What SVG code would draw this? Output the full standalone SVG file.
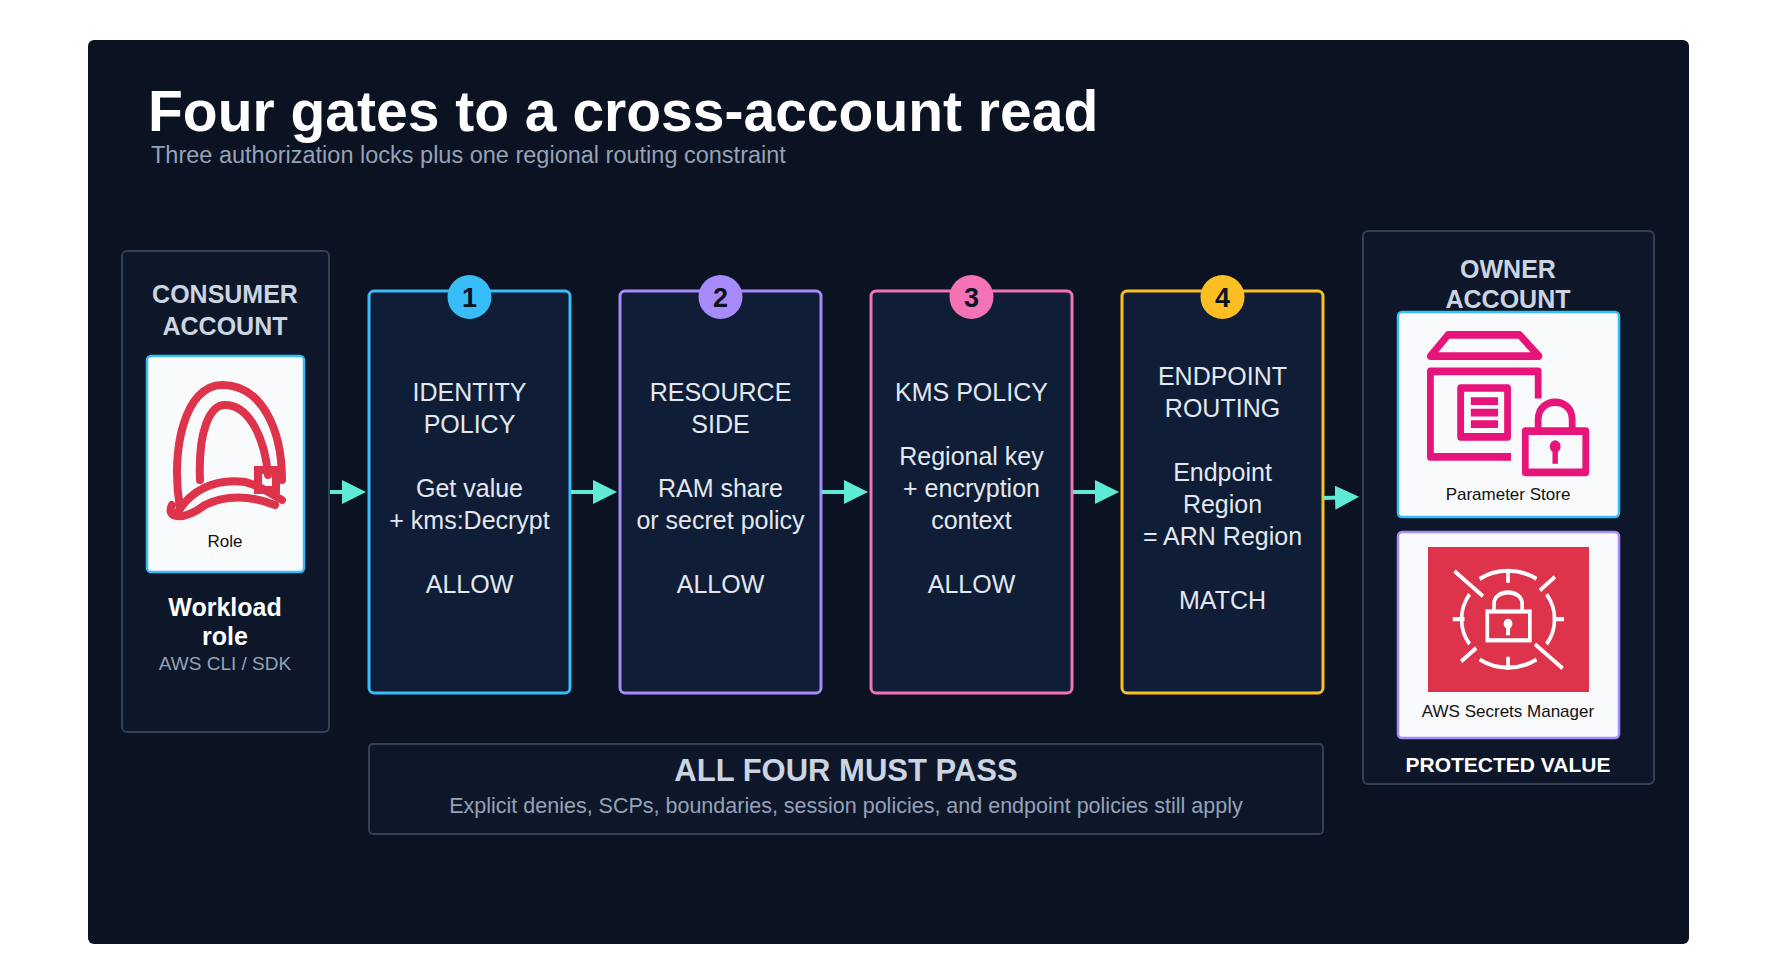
<svg xmlns="http://www.w3.org/2000/svg" width="1782" height="980" viewBox="0 0 1782 980">
<style>
text{font-family:"Liberation Sans",Arial,sans-serif}
.acct{fill:#0d1729;stroke:#334155;stroke-width:2}
.hd{font-weight:bold;font-size:25px;fill:#cbd5e1;text-anchor:middle}
.gate{fill:#101d36;stroke-width:3}
.gt{font-size:25px;fill:#e2e8f0;text-anchor:middle}
.num{font-weight:bold;font-size:27px;fill:#0b1220;text-anchor:middle}
.card{fill:#f8fafc;stroke-width:2.5}
.lbl{font-size:17px;fill:#111;text-anchor:middle}
.conn{stroke:#5eead4;stroke-width:4;fill:none;marker-end:url(#ah)}
.pk{fill:none;stroke:#e7157b;stroke-width:20;stroke-linejoin:round}
.wt{fill:none;stroke:#fff;stroke-width:11}
</style>
<defs>
<marker id="ah" markerWidth="6" markerHeight="6" refX="5" refY="3" orient="auto" markerUnits="strokeWidth"><path d="M0,0 L6,3 L0,6 z" fill="#5eead4"/></marker>
</defs>
<rect width="1782" height="980" fill="#fff"/>
<rect x="88" y="40" width="1601" height="904" rx="6" fill="#0b1221"/>
<text x="148" y="131" font-size="57" font-weight="bold" fill="#fff">Four gates to a cross-account read</text>
<text x="151" y="163" font-size="23.5" fill="#94a3b8">Three authorization locks plus one regional routing constraint</text>

<g id="consumer">
<rect class="acct" x="122" y="251" width="207" height="481" rx="5"/>
<text class="hd" x="225" y="303">CONSUMER</text>
<text class="hd" x="225" y="335">ACCOUNT</text>
<rect class="card" x="147" y="356" width="157" height="216" rx="4" stroke="#38bdf8"/>
<g fill="none" stroke="#dd344c" stroke-width="8" stroke-linecap="round">
<path d="M180,508 C170,450 185,385 222,385 C262,385 282,430 282,480"/>
<path d="M200,480 C198,430 210,405 225,405 C250,405 265,440 268,475"/>
<path d="M176,515 C190,490 215,478 245,482 C262,486 272,495 282,500"/>
<path d="M172,505 C165,520 185,520 205,505 C225,495 250,495 275,505"/>
<rect x="258" y="470" width="18" height="20"/>
</g>
<text class="lbl" x="225" y="547">Role</text>
<text x="225" y="616" font-size="25" font-weight="bold" fill="#fff" text-anchor="middle">Workload</text>
<text x="225" y="645" font-size="25" font-weight="bold" fill="#fff" text-anchor="middle">role</text>
<text x="225" y="670" font-size="19" fill="#94a3b8" text-anchor="middle">AWS CLI / SDK</text>
</g>

<g id="gate1">
<rect class="gate" x="369" y="291" width="201" height="402" rx="5" stroke="#38bdf8"/>
<circle cx="469.5" cy="297" r="22" fill="#38bdf8"/>
<text class="num" x="469.5" y="307">1</text>
<text class="gt" x="469.5" y="401">IDENTITY</text><text class="gt" x="469.5" y="433">POLICY</text>
<text class="gt" x="469.5" y="497">Get value</text><text class="gt" x="469.5" y="529">+ kms:Decrypt</text>
<text class="gt" x="469.5" y="593">ALLOW</text>
</g>
<g id="gate2">
<rect class="gate" x="620" y="291" width="201" height="402" rx="5" stroke="#a78bfa"/>
<circle cx="720.5" cy="297" r="22" fill="#a78bfa"/>
<text class="num" x="720.5" y="307">2</text>
<text class="gt" x="720.5" y="401">RESOURCE</text><text class="gt" x="720.5" y="433">SIDE</text>
<text class="gt" x="720.5" y="497">RAM share</text><text class="gt" x="720.5" y="529">or secret policy</text>
<text class="gt" x="720.5" y="593">ALLOW</text>
</g>
<g id="gate3">
<rect class="gate" x="871" y="291" width="201" height="402" rx="5" stroke="#f472b6"/>
<circle cx="971.5" cy="297" r="22" fill="#f472b6"/>
<text class="num" x="971.5" y="307">3</text>
<text class="gt" x="971.5" y="401">KMS POLICY</text>
<text class="gt" x="971.5" y="465">Regional key</text><text class="gt" x="971.5" y="497">+ encryption</text><text class="gt" x="971.5" y="529">context</text>
<text class="gt" x="971.5" y="593">ALLOW</text>
</g>
<g id="gate4">
<rect class="gate" x="1122" y="291" width="201" height="402" rx="5" stroke="#fbbf24"/>
<circle cx="1222.5" cy="297" r="22" fill="#fbbf24"/>
<text class="num" x="1222.5" y="307">4</text>
<text class="gt" x="1222.5" y="385">ENDPOINT</text><text class="gt" x="1222.5" y="417">ROUTING</text>
<text class="gt" x="1222.5" y="481">Endpoint</text><text class="gt" x="1222.5" y="513">Region</text><text class="gt" x="1222.5" y="545">= ARN Region</text>
<text class="gt" x="1222.5" y="609">MATCH</text>
</g>

<g id="connectors">
<line class="conn" x1="330" y1="492" x2="362" y2="492"/>
<line class="conn" x1="571" y1="492" x2="613" y2="492"/>
<line class="conn" x1="822" y1="492" x2="864" y2="492"/>
<line class="conn" x1="1073" y1="492" x2="1115" y2="492"/>
<line class="conn" x1="1324" y1="498" x2="1355" y2="497"/>
</g>

<g id="allfour">
<rect x="369" y="744" width="954" height="90" rx="4" fill="#0d1729" stroke="#334155" stroke-width="2"/>
<text x="846" y="781" font-size="31" font-weight="bold" fill="#cbd5e1" text-anchor="middle">ALL FOUR MUST PASS</text>
<text x="846" y="813" font-size="21.5" fill="#94a3b8" text-anchor="middle">Explicit denies, SCPs, boundaries, session policies, and endpoint policies still apply</text>
</g>

<g id="owner">
<rect class="acct" x="1363" y="231" width="291" height="553" rx="5"/>
<text class="hd" x="1508" y="278">OWNER</text>
<text class="hd" x="1508" y="308">ACCOUNT</text>
</g>
<g id="paramstore">
<rect class="card" x="1398" y="312" width="221" height="205" rx="4" stroke="#38bdf8"/>
<g transform="translate(1427,331) scale(0.34,0.385) translate(-368,-340)">
<path class="pk" d="M378,405 L430,350 L640,350 L697,405 Z"/>
<path class="pk" d="M615,667 L378,667 L378,445 L695,445 L695,515"/>
<rect class="pk" x="467" y="488" width="138" height="127"/>
<path class="pk" d="M497,522 H577 M497,552 H577 M497,582 H577"/>
<rect class="pk" x="657" y="600" width="178" height="107"/>
<path class="pk" d="M695,600 V570 C695,510 795,510 795,570 V600"/>
<circle cx="745" cy="640" r="16" fill="#e7157b"/>
<rect x="737" y="640" width="16" height="45" fill="#e7157b"/>
</g>
<text class="lbl" x="1508" y="500">Parameter Store</text>
</g>
<g id="secrets">
<rect class="card" x="1398" y="532" width="221" height="206" rx="4" stroke="#a78bfa"/>
<rect x="1428" y="547" width="161" height="145" fill="#dd344c"/>
<g transform="translate(1428,547) scale(0.335,0.384) translate(-366,-902)">
<path class="wt" d="M520,985 A150,120 0 0 1 690,985 M720,1025 A150,120 0 0 1 720,1155 M690,1195 A150,120 0 0 1 520,1195 M490,1155 A150,120 0 0 1 490,1025"/>
<path class="wt" d="M605,960 V995 M605,1188 V1222 M440,1090 H475 M738,1090 H772 M445,965 L530,1030 M685,1155 L768,1218 M700,1015 L745,980 M465,1200 L510,1165"/>
<rect class="wt" x="543" y="1070" width="127" height="75"/>
<path class="wt" d="M563,1070 V1050 C563,1010 647,1010 647,1050 V1070"/>
<circle cx="605" cy="1102" r="13" fill="#fff"/>
<rect x="599" y="1102" width="12" height="30" fill="#fff"/>
</g>
<text class="lbl" x="1508" y="717">AWS Secrets Manager</text>
<text x="1508" y="772" font-size="21" font-weight="bold" fill="#fff" text-anchor="middle">PROTECTED VALUE</text>
</g>
</svg>
